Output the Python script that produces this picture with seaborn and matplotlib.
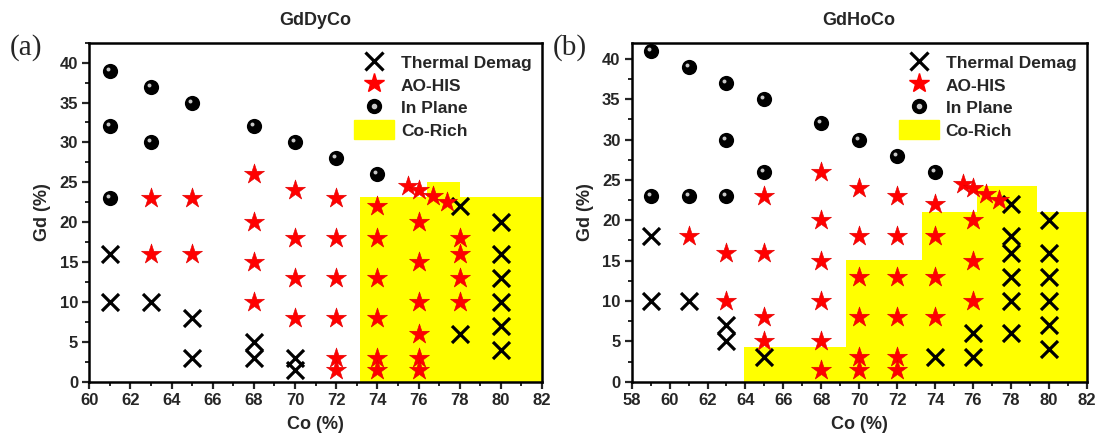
import numpy as np
import matplotlib
matplotlib.use('Agg')
import matplotlib.pyplot as plt
import matplotlib.transforms as mtransforms
from matplotlib.ticker import MultipleLocator
from matplotlib.lines import Line2D
from matplotlib.legend_handler import HandlerTuple
import seaborn as sns

# ---- (a) GdDyCo ----
dy_demag_co = [61, 61, 63, 65, 65, 68, 68, 70, 70, 78, 78, 80, 80, 80, 80, 80, 80]
dy_demag_gd = [16, 10, 10, 8, 3, 5, 3, 3, 1.5, 22, 6, 20, 16, 13, 10, 7, 4]
dy_aohis_co = [63, 63, 65, 65,
               68, 68, 68, 68,
               70, 70, 70, 70,
               72, 72, 72, 72, 72, 72,
               74, 74, 74, 74, 74, 74,
               76, 76, 76, 76, 76, 76,
               75.5, 76, 76.7, 77.4,
               78, 78, 78, 78]
dy_aohis_gd = [23, 16, 23, 16,
               26, 20, 15, 10,
               24, 18, 13, 8,
               23, 18, 13, 8, 3, 1.5,
               22, 18, 13, 8, 3, 1.5,
               20, 15, 10, 6, 3, 1.5,
               24.5, 24, 23.3, 22.5,
               18, 16, 13, 10]
dy_plane_co = [61, 61, 61, 63, 63, 65, 68, 70, 72, 74]
dy_plane_gd = [39, 32, 23, 37, 30, 35, 32, 30, 28, 26]
dy_rich_edges = [73.15, 76.4, 78.0, 82.0]
dy_rich_top = [23.2, 25.0, 23.2]

# ---- (b) GdHoCo ----
ho_demag_co = [59, 59, 61, 63, 63, 65, 74, 76, 76,
               78, 78, 78, 78, 78, 78, 80, 80, 80, 80, 80, 80]
ho_demag_gd = [18, 10, 10, 7, 5, 3, 3, 6, 3,
               22, 18, 16, 13, 10, 6, 20, 16, 13, 10, 7, 4]
ho_aohis_co = [61, 63, 63, 65, 65, 65, 65,
               68, 68, 68, 68, 68, 68,
               70, 70, 70, 70, 70, 70,
               72, 72, 72, 72, 72, 72,
               74, 74, 74, 74,
               76, 76, 76,
               75.5, 76, 76.7, 77.4]
ho_aohis_gd = [18, 16, 10, 23, 16, 8, 5,
               26, 20, 15, 10, 5, 1.5,
               24, 18, 13, 8, 3, 1.5,
               23, 18, 13, 8, 3, 1.5,
               22, 18, 13, 8,
               20, 15, 10,
               24.5, 24, 23.3, 22.5]
ho_plane_co = [59, 61, 63, 65, 63, 68, 70, 72, 65, 74, 59, 61, 63]
ho_plane_gd = [41, 39, 37, 35, 30, 32, 30, 28, 26, 26, 23, 23, 23]
ho_rich_edges = [63.9, 69.3, 73.3, 76.2, 79.4, 82.0]
ho_rich_top = [4.35, 15.1, 21.05, 24.3, 21.05]

sns.set_style('ticks')
plt.rcParams['font.family'] = ['Liberation Sans', 'DejaVu Sans']
plt.rcParams['font.weight'] = 'bold'
plt.rcParams['axes.labelweight'] = 'bold'
plt.rcParams['axes.titleweight'] = 'bold'

fig = plt.figure(figsize=(10.98, 4.43), dpi=100)
ax_a = fig.add_axes([0.0813, 0.1384, 0.4123, 0.7652])
ax_b = fig.add_axes([0.5753, 0.1384, 0.4144, 0.7652])


def draw_panel(ax, demag_co, demag_gd, aohis_co, aohis_gd, plane_co, plane_gd,
               edges, tops, xlim, ylim, title):
    ax.bar(edges[:-1], tops, width=np.diff(edges), align='edge',
           color='#ffff00', linewidth=0, zorder=1)
    sns.scatterplot(x=demag_co, y=demag_gd, marker='x', color='black', s=150,
                    linewidth=2.3, ax=ax, zorder=3, legend=False)
    sns.scatterplot(x=aohis_co, y=aohis_gd, marker='*', color='red', s=230,
                    edgecolor='#e00000', linewidth=0.4, ax=ax, zorder=3, legend=False)
    sns.scatterplot(x=plane_co, y=plane_gd, marker='o', color='black', s=120,
                    linewidth=0, ax=ax, zorder=3, legend=False)
    # small shine on the spheres
    shine = mtransforms.offset_copy(ax.transData, fig=fig, x=-2, y=2, units='dots')
    ax.scatter(plane_co, plane_gd, s=8, color='#c8c8c8', linewidth=0,
               transform=shine, zorder=4)

    ax.set_xlim(*xlim)
    ax.set_ylim(*ylim)
    ax.xaxis.set_major_locator(MultipleLocator(2))
    ax.xaxis.set_minor_locator(MultipleLocator(1))
    ax.yaxis.set_major_locator(MultipleLocator(5))
    ax.yaxis.set_minor_locator(MultipleLocator(2.5))
    ax.tick_params(which='major', direction='out', length=5, width=1.6,
                   labelsize=12, pad=3)
    ax.tick_params(which='minor', direction='out', length=3, width=1.4)
    for sp in ax.spines.values():
        sp.set_linewidth(1.8)
        sp.set_color('black')
    ax.set_xlabel('Co (%)', fontsize=13, labelpad=6)
    ax.set_ylabel('Gd (%)', fontsize=13, labelpad=6)
    ax.set_title(title, fontsize=13, pad=13)

    handles = [
        Line2D([], [], marker='x', color='black', linestyle='none',
               markersize=13, markeredgewidth=2.3),
        Line2D([], [], marker='*', color='red', linestyle='none', markersize=15),
        (Line2D([], [], marker='o', color='black', linestyle='none', markersize=10),
         Line2D([], [], marker='o', color='#c8c8c8', linestyle='none', markersize=3)),
        plt.Rectangle((0, 0), 1, 1, color='#ffff00'),
    ]
    labels = ['Thermal Demag', 'AO-HIS', 'In Plane', 'Co-Rich']
    ax.legend(handles, labels, loc='upper right', frameon=False, fontsize=12.5,
              handler_map={tuple: HandlerTuple(ndivide=1)},
              handlelength=2.3, handleheight=1.3, handletextpad=0.4,
              labelspacing=0.2, borderaxespad=0.3, borderpad=0.3)


draw_panel(ax_a, dy_demag_co, dy_demag_gd, dy_aohis_co, dy_aohis_gd,
           dy_plane_co, dy_plane_gd, dy_rich_edges, dy_rich_top,
           (60, 82), (0, 42.5), 'GdDyCo')
draw_panel(ax_b, ho_demag_co, ho_demag_gd, ho_aohis_co, ho_aohis_gd,
           ho_plane_co, ho_plane_gd, ho_rich_edges, ho_rich_top,
           (58, 82), (0, 42), 'GdHoCo')

fig.text(0.009, 0.892, '(a)', family='Liberation Serif', fontweight='normal',
         fontsize=21, va='center', ha='left')
fig.text(0.503, 0.892, '(b)', family='Liberation Serif', fontweight='normal',
         fontsize=21, va='center', ha='left')

fig.savefig('out.png', dpi=100)
